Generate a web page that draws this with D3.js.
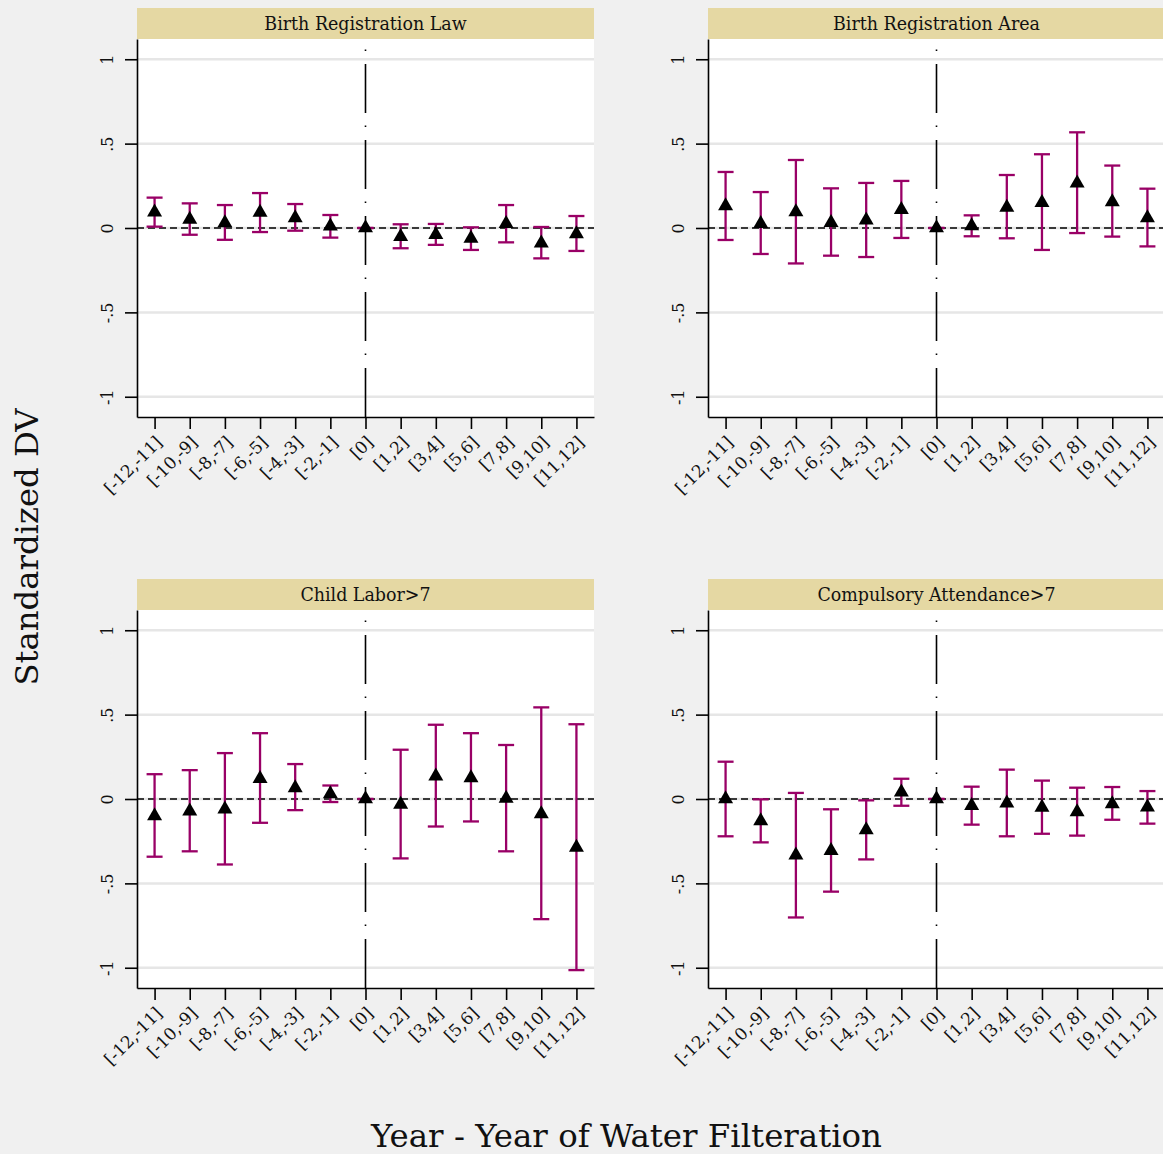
<!DOCTYPE html>
<html>
<head>
<meta charset="utf-8">
<script src="https://cdn.jsdelivr.net/npm/d3@7"></script>
<style>
  body { margin: 0; background: #f0f0f0; }
  text { font-family: "DejaVu Serif", serif; fill: #111; }
</style>
</head>
<body>
<div id="chart"></div>
<script>
var categories = ["[-12,-11]", "[-10,-9]", "[-8,-7]", "[-6,-5]", "[-4,-3]", "[-2,-1]", "[0]",
  "[1,2]", "[3,4]", "[5,6]", "[7,8]", "[9,10]", "[11,12]"];

var yTicks = [-1, -0.5, 0, 0.5, 1];
var yTickLabels = ["-1", "-.5", "0", ".5", "1"];

var panelTitles = ["Birth Registration Law", "Birth Registration Area", "Child Labor>7", "Compulsory Attendance>7"];

// point estimates and 95% bounds, one set per panel
var lawEst = [0.094, 0.05, 0.03, 0.092, 0.06, 0.01, 0, -0.052, -0.04, -0.062, 0.025, -0.09, -0.035];
var lawLo  = [0.008, -0.04, -0.07, -0.024, -0.016, -0.057, 0, -0.12, -0.1, -0.13, -0.085, -0.18, -0.136];
var lawHi  = [0.18, 0.146, 0.136, 0.207, 0.142, 0.077, 0, 0.022, 0.024, 0.004, 0.136, 0.006, 0.071];

var areaEst = [0.13, 0.025, 0.095, 0.032, 0.046, 0.108, 0, 0.012, 0.122, 0.15, 0.265, 0.155, 0.06];
var areaLo  = [-0.071, -0.154, -0.21, -0.164, -0.172, -0.059, 0, -0.049, -0.061, -0.13, -0.03, -0.051, -0.109];
var areaHi  = [0.332, 0.213, 0.403, 0.235, 0.267, 0.279, 0, 0.075, 0.314, 0.437, 0.567, 0.37, 0.233];

var laborEst = [-0.1, -0.072, -0.06, 0.12, 0.066, 0.03, 0, -0.032, 0.135, 0.125, 0.004, -0.088, -0.287];
var laborLo  = [-0.342, -0.31, -0.388, -0.141, -0.066, -0.018, 0, -0.352, -0.163, -0.133, -0.31, -0.712, -1.014];
var laborHi  = [0.147, 0.171, 0.272, 0.39, 0.207, 0.08, 0, 0.292, 0.44, 0.39, 0.32, 0.543, 0.443];

var attendEst = [0, -0.13, -0.333, -0.306, -0.184, 0.04, 0, -0.04, -0.025, -0.05, -0.076, -0.03, -0.049];
var attendLo  = [-0.221, -0.257, -0.702, -0.549, -0.358, -0.04, 0, -0.152, -0.221, -0.206, -0.217, -0.123, -0.146];
var attendHi  = [0.221, -0.002, 0.036, -0.061, -0.008, 0.12, 0, 0.073, 0.174, 0.109, 0.067, 0.071, 0.047];

var width = 1163, height = 1154;
var ciColor = "#990066";

var svg = d3.select("#chart").append("svg")
  .attr("width", width)
  .attr("height", height);

svg.append("rect").attr("width", width).attr("height", height).attr("fill", "#f0f0f0");

// panel layout: left, top of header strip
var panels = [
  {title: panelTitles[0], est: lawEst, lo: lawLo, hi: lawHi, left: 137, top: 8},
  {title: panelTitles[1], est: areaEst, lo: areaLo, hi: areaHi, left: 708, top: 8},
  {title: panelTitles[2], est: laborEst, lo: laborLo, hi: laborHi, left: 137, top: 579},
  {title: panelTitles[3], est: attendEst, lo: attendLo, hi: attendHi, left: 708, top: 579}
];

var pw = 457, ph = 378, stripH = 31;

panels.forEach(function(p) {
  var g = svg.append("g").attr("transform", "translate(" + p.left + "," + p.top + ")");

  var x = d3.scalePoint().domain(categories).range([0, pw]).padding(0.5);
  var y = d3.scaleLinear().domain([-1.12, 1.12]).range([stripH + ph, stripH]);

  // header strip
  g.append("rect").attr("width", pw).attr("height", stripH).attr("fill", "#e5d8a3");
  g.append("text")
    .attr("transform", "translate(" + pw / 2 + "," + (stripH / 2 + 6.5) + ") scale(0.97,1)")
    .attr("text-anchor", "middle")
    .style("font-size", "18px")
    .text(p.title);

  // plot region
  g.append("rect").attr("y", stripH).attr("width", pw).attr("height", ph).attr("fill", "#fff");

  g.selectAll(".grid")
    .data(yTicks)
    .enter().append("line")
    .attr("class", "grid")
    .attr("x1", 0).attr("x2", pw)
    .attr("y1", function(d) { return y(d); })
    .attr("y2", function(d) { return y(d); })
    .attr("stroke", "#e6e6e6")
    .attr("stroke-width", 2.5);

  // zero reference line
  g.append("line")
    .attr("x1", 0).attr("x2", pw)
    .attr("y1", y(0)).attr("y2", y(0))
    .attr("stroke", "#000")
    .attr("stroke-width", 1.7)
    .attr("stroke-dasharray", "7,4");

  // event-time reference line at [0]
  g.append("line")
    .attr("x1", x("[0]")).attr("x2", x("[0]"))
    .attr("y1", stripH + ph).attr("y2", stripH)
    .attr("stroke", "#000")
    .attr("stroke-width", 1.6)
    .attr("stroke-dasharray", "49,13,1.5,12.5");

  var rows = categories.map(function(c, i) {
    return {cat: c, est: p.est[i], lo: p.lo[i], hi: p.hi[i]};
  });

  var bars = g.selectAll(".ci")
    .data(rows)
    .enter().append("g")
    .attr("class", "ci")
    .attr("stroke", ciColor)
    .attr("stroke-width", 2.3);

  bars.append("line")
    .attr("x1", function(d) { return x(d.cat); })
    .attr("x2", function(d) { return x(d.cat); })
    .attr("y1", function(d) { return y(d.lo); })
    .attr("y2", function(d) { return y(d.hi); });

  bars.append("line")
    .attr("x1", function(d) { return x(d.cat) - 8; })
    .attr("x2", function(d) { return x(d.cat) + 8; })
    .attr("y1", function(d) { return y(d.hi); })
    .attr("y2", function(d) { return y(d.hi); });

  bars.append("line")
    .attr("x1", function(d) { return x(d.cat) - 8; })
    .attr("x2", function(d) { return x(d.cat) + 8; })
    .attr("y1", function(d) { return y(d.lo); })
    .attr("y2", function(d) { return y(d.lo); });

  // triangles centred on their centroid
  g.selectAll(".pt")
    .data(rows)
    .enter().append("path")
    .attr("class", "pt")
    .attr("d", "M0,-8.7L7.5,4.3L-7.5,4.3Z")
    .attr("fill", "#000")
    .attr("transform", function(d) { return "translate(" + x(d.cat) + "," + y(d.est) + ")"; });

  // axes
  var yAxis = g.append("g")
    .call(d3.axisLeft(y).tickValues(yTicks).tickSize(12).tickSizeOuter(0)
      .tickFormat(function(d, i) { return yTickLabels[i]; }));
  yAxis.selectAll("text")
    .attr("x", null).attr("dy", null)
    .attr("text-anchor", "middle")
    .attr("transform", "translate(-24.5,0) rotate(-90)")
    .style("font-size", "16px")
    .attr("fill", "#111");

  var xAxis = g.append("g")
    .attr("transform", "translate(0," + (stripH + ph) + ")")
    .call(d3.axisBottom(x).tickSize(12).tickSizeOuter(0));
  xAxis.selectAll("text")
    .attr("y", null).attr("dy", "0.35em")
    .attr("text-anchor", "end")
    .attr("transform", "translate(4,22) rotate(-45)")
    .style("font-size", "17px")
    .attr("fill", "#111");

  svg.selectAll(".domain, .tick line").attr("stroke", "#000").attr("stroke-width", 1.6);
});

// overall axis titles
svg.append("text")
  .attr("transform", "translate(38,547) rotate(-90)")
  .attr("text-anchor", "middle")
  .attr("textLength", 277)
  .attr("lengthAdjust", "spacingAndGlyphs")
  .style("font-size", "32px")
  .text("Standardized DV");

svg.append("text")
  .attr("x", 626.5)
  .attr("y", 1147)
  .attr("text-anchor", "middle")
  .attr("textLength", 511)
  .attr("lengthAdjust", "spacingAndGlyphs")
  .style("font-size", "32px")
  .text("Year - Year of Water Filteration");
</script>
</body>
</html>
